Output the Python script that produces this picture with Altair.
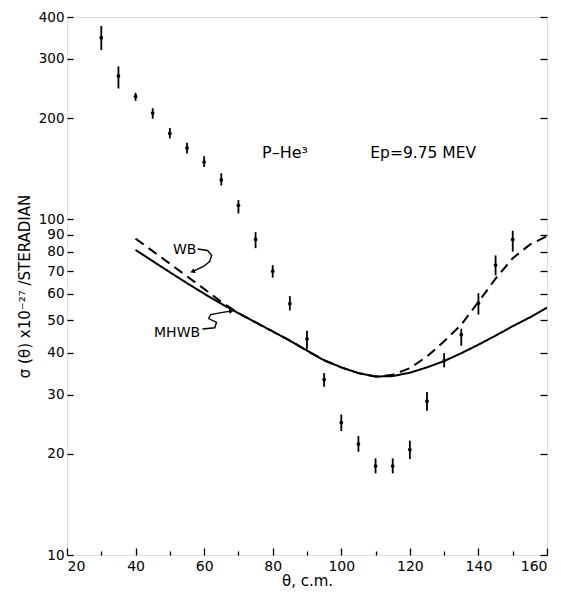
import altair as alt
import pandas as pd

# ---------------- data ----------------
theta = [30, 35, 40, 45, 50, 55, 60, 65, 70, 75, 80, 85, 90, 95, 100,
         105, 110, 115, 120, 125, 130, 135, 140, 145, 150]
sigma = [347, 267, 232, 207, 180, 163, 148, 131, 110, 87, 70, 56, 44, 33.3, 24.8,
         21.4, 18.4, 18.4, 20.6, 28.7, 37.9, 45.3, 56.2, 73, 87]
sig_lo = [319, 245, 225, 199, 174, 157, 143, 126, 104, 82, 67, 53.5, 41, 31.7, 23.4,
          20.3, 17.5, 17.5, 19.3, 26.9, 36.2, 42.0, 52.0, 68, 80]
sig_hi = [376, 285, 238, 214, 187, 169, 154, 137, 114, 91.5, 73, 59, 46.5, 34.8, 26.2,
          22.6, 19.4, 19.4, 21.9, 30.6, 39.9, 47.2, 60.2, 78, 92.4]

curve_theta = [40, 45, 50, 55, 60, 65, 70, 75, 80, 85, 90, 95, 100,
               105, 110, 115, 120, 125, 130, 135, 140, 145, 150, 155, 160]
mhwb = [81, 75, 69.5, 64.5, 60, 56, 52.5, 49.3, 46.3, 43.5, 40.6, 38.0, 36.2,
        34.8, 34.0, 34.1, 34.9, 36.2, 37.8, 39.9, 42.3, 45.0, 48.0, 51.0, 54.5]
wb = [87.5, 80.3, 73.7, 67.6, 62.0, 56.7, 52.5, 49.3, 46.3, 43.5, 40.6, 38.0, 36.2,
      34.8, 34.0, 34.4, 36.0, 39.0, 43.3, 48.5, 56.7, 66.5, 76.5, 84.0, 89.0]

y_ticks = [10, 20, 30, 40, 50, 60, 70, 80, 90, 100, 200, 300, 400]
x_major = [20, 40, 60, 80, 100, 120, 140, 160]
x_minor = [30, 50, 70, 90, 110, 130, 150]

# annotation texts (data coordinates)
ann_text = ["P–He³", "Ep=9.75 MEV", "WB", "MHWB"]
ann_x = [83.6, 123.9, 54.3, 52.1]
ann_y = [157.8, 157.8, 81.2, 45.9]
ann_size = [16, 15.5, 14, 14]

# leader arrows (data coordinates)
wb_arrow_x = [58.1, 61.0, 62.2, 61.6, 59.8, 56.6]
wb_arrow_y = [81.5, 80.7, 78.0, 74.8, 72.3, 69.8]
mh_arrow_x = [59.5, 63.1, 63.6, 61.3, 61.9, 65.4, 68.0]
mh_arrow_y = [47.1, 47.5, 49.3, 50.6, 52.0, 52.8, 53.3]

FONT = "DejaVu Sans"

pts = pd.DataFrame({"theta": theta, "sigma": sigma, "lo": sig_lo, "hi": sig_hi})
n = len(curve_theta)
curves = pd.DataFrame({
    "theta": curve_theta * 2,
    "sigma": mhwb + wb,
    "model": ["MHWB"] * n + ["WB"] * n,
})
ann = pd.DataFrame({"text": ann_text, "x": ann_x, "y": ann_y, "size": ann_size})
arrows = pd.DataFrame({
    "x": wb_arrow_x + mh_arrow_x,
    "y": wb_arrow_y + mh_arrow_y,
    "g": ["wb"] * len(wb_arrow_x) + ["mh"] * len(mh_arrow_x),
    "o": list(range(len(wb_arrow_x))) + list(range(len(mh_arrow_x))),
})
wb_head = pd.DataFrame({"x": [wb_arrow_x[-1]], "y": [wb_arrow_y[-1]]})
mh_head = pd.DataFrame({"x": [mh_arrow_x[-1]], "y": [mh_arrow_y[-1]]})

xs = alt.Scale(domain=[20, 160], nice=False, zero=False)
ys = alt.Scale(type="log", domain=[10, 400], nice=False)

common_axis = dict(grid=False, domain=False, labelFont=FONT, titleFont=FONT,
                   labelColor="black", titleColor="black", tickColor="black",
                   titleFontWeight="normal", tickWidth=1.3)

x_axis_main = alt.Axis(values=x_major, title="θ, c.m.", offset=-7, tickSize=7,
                       labelFontSize=14, labelPadding=4, titleFontSize=15,
                       titlePadding=0, **common_axis)
y_axis_main = alt.Axis(values=y_ticks, format="d", title="σ (θ) x10⁻²⁷ /STERADIAN",
                       offset=-6, tickSize=6, labelFontSize=13.5, labelPadding=3,
                       titleFontSize=15, titlePadding=6, **common_axis)
x_axis_minor = alt.Axis(values=x_minor, orient="bottom", title=None, labels=False,
                        offset=-4, tickSize=4, **common_axis)
y_axis_right = alt.Axis(values=y_ticks, orient="right", title=None, labels=False,
                        offset=-7, tickSize=7, **common_axis)

curve_layer = alt.Chart(curves).mark_line(color="black", strokeWidth=2).encode(
    x=alt.X("theta:Q", scale=xs, axis=x_axis_main),
    y=alt.Y("sigma:Q", scale=ys, axis=y_axis_main),
    strokeDash=alt.StrokeDash("model:N",
                              scale=alt.Scale(domain=["MHWB", "WB"], range=[[1, 0], [10, 6]]),
                              legend=None),
)

bars = alt.Chart(pts).mark_rule(color="black", strokeWidth=1.8).encode(
    x=alt.X("theta:Q", scale=xs, axis=x_axis_minor),
    y=alt.Y("lo:Q", scale=ys, axis=y_axis_right),
    y2="hi:Q",
)

dots = alt.Chart(pts).mark_point(shape="circle", filled=True, color="black",
                                  size=14, opacity=1).encode(
    x=alt.X("theta:Q", scale=xs, axis=None),
    y=alt.Y("sigma:Q", scale=ys, axis=None),
)

texts = alt.Chart(ann).mark_text(font=FONT, color="black",
                                 align="center", baseline="middle").encode(
    x=alt.X("x:Q", scale=xs, axis=None),
    y=alt.Y("y:Q", scale=ys, axis=None),
    text="text:N",
    size=alt.Size("size:Q", scale=None, legend=None),
)

leaders = alt.Chart(arrows).mark_line(color="black", strokeWidth=1.4).encode(
    x=alt.X("x:Q", scale=xs, axis=None),
    y=alt.Y("y:Q", scale=ys, axis=None),
    detail="g:N",
    order="o:Q",
)

head1 = alt.Chart(wb_head).mark_point(shape="triangle-up", filled=True, color="black",
                                      size=30, angle=245, opacity=1).encode(
    x=alt.X("x:Q", scale=xs, axis=None),
    y=alt.Y("y:Q", scale=ys, axis=None),
)
head2 = alt.Chart(mh_head).mark_point(shape="triangle-up", filled=True, color="black",
                                      size=30, angle=81, opacity=1).encode(
    x=alt.X("x:Q", scale=xs, axis=None),
    y=alt.Y("y:Q", scale=ys, axis=None),
)

chart = alt.layer(curve_layer, bars, dots, texts, leaders, head1, head2).resolve_axis(
    x="independent", y="independent"
).properties(
    width=480,
    height=538,
    padding={"left": 59, "top": 9, "right": 5, "bottom": 37},
    autosize=alt.AutoSizeParams(type="none"),
).configure_view(
    stroke="black", strokeWidth=1.5
).configure(background="white")

chart.save("out.html", embed_options={"renderer": "svg", "actions": False})
